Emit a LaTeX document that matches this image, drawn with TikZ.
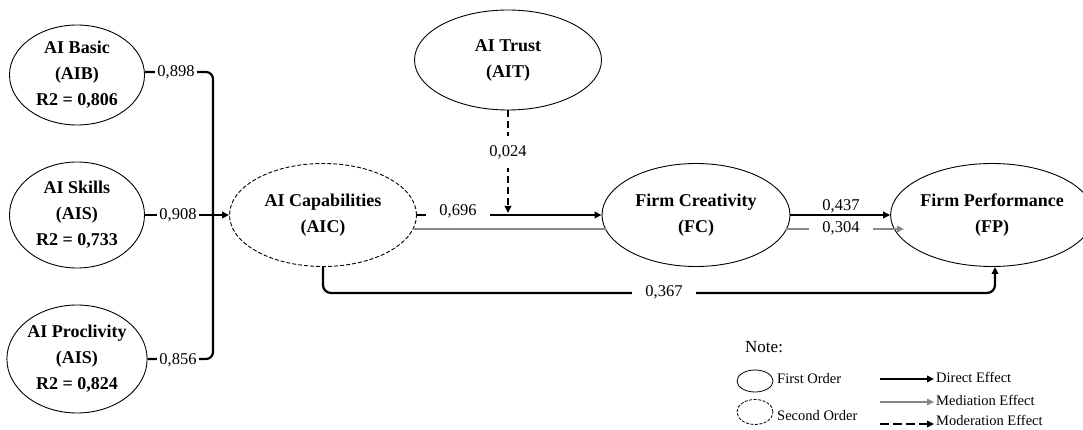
\documentclass[tikz,border=0pt]{standalone}
\usepackage{fontspec}
\setmainfont{Liberation Serif}
\usetikzlibrary{shapes.geometric,arrows.meta,calc}
\definecolor{medgray}{RGB}{135,135,135}
\begin{document}
\begin{tikzpicture}[x=1pt,y=-1pt,
  lv/.style={ellipse,draw,line width=0.9pt,inner sep=0pt,align=center,
    font=\fontsize{18}{26}\selectfont\bfseries},
  lvtwo/.style={lv,dash pattern=on 4pt off 2pt},
  tip/.style={-{Triangle[length=7pt,width=6.5pt]}},
  eff/.style={line width=2.2pt,tip},
  med/.style={line width=2.2pt,draw=medgray},
  modr/.style={eff,dash pattern=on 7pt off 4pt},
  num/.style={fill=white,font=\fontsize{16.5}{17}\selectfont,inner ysep=1pt,inner xsep=2pt},
  wnum/.style={num,inner xsep=13pt},
  legt/.style={anchor=west,font=\fontsize{14.5}{15}\selectfont,inner sep=2pt}
]
\useasboundingbox (0,0) rectangle (1083,430);

% latent variables
\node[lv,minimum width=135pt,minimum height=100pt] (aib) at (77,75) {AI Basic\\(AIB)\\R2 = 0,806};
\node[lv,minimum width=135pt,minimum height=106pt] (ais) at (77,215) {AI Skills\\(AIS)\\R2 = 0,733};
\node[lv,minimum width=135pt,minimum height=108pt] (aip) at (77,359) {AI Proclivity\\(AIS)\\R2 = 0,824};
\node[lv,minimum width=187pt,minimum height=100pt] (ait) at (508,60) {AI Trust\\(AIT)};
\node[lvtwo,minimum width=187pt,minimum height=103pt] (aic) at (323,215) {AI Capabilities\\(AIC)};
\node[lv,minimum width=188pt,minimum height=103pt] (fc) at (696,215) {Firm Creativity\\(FC)};
\node[lv,minimum width=182pt,minimum height=103pt] (fp) at (992,215) {Firm Performance\\(FP)};

% first-order to second-order
\coordinate (br) at (213,215);
\draw[line width=2.2pt,rounded corners=7pt] ($(aib.east)+(0,-3)$) -| (br) |- (aip.east);
\draw[eff] (ais.east) -- (aic.west);
\node[num] (l898) at (176,72) {0,898};
\node[num] (l908) at (178,215) {0,908};
\node[num] (l856) at (178,360) {0,856};

% structural paths
\draw[med] ($(aic.center)+(90,14)$) -- ($(fc.center)+(-90,14)$);
\draw[eff] (aic.east) -- (fc.west);
\coordinate (modend) at (508,213);
\draw[modr] (ait.south) -- (modend);
\node[num,inner ysep=9pt] (l024) at (508,152) {0,024};
\node[wnum] (l696) at (458,211) {0,696};

\draw[med,tip] ($(fc.center)+(90,14)$) -- ($(fp.center)+(-88,14)$);
\draw[eff] (fc.east) -- (fp.west);
\node[wnum] (l437) at (841,206) {0,437};
\node[wnum] (l304) at (841,228) {0,304};

\coordinate (c367) at (995,293);
\draw[eff,rounded corners=8pt] (aic.south) |- (c367) -- ($(fp.south)+(3,0)$);
\node[wnum] (l367) at (664,292) {0,367};

% legend
\node[anchor=west,font=\fontsize{17}{17}\selectfont,inner sep=0pt] (note) at (745,347) {Note:};
\node[ellipse,draw,line width=0.8pt,minimum width=36pt,minimum height=22pt,inner sep=0pt] (lg1) at (755,381) {};
\node[legt] (lt1) at (775,379) {First Order};
\node[ellipse,draw,line width=0.8pt,dash pattern=on 3pt off 1.5pt,minimum width=36pt,minimum height=25pt,inner sep=0pt] (lg2) at (755,412) {};
\node[legt] (lt2) at (775,416) {Second Order};

\node[legt] (lt3) at (934,377) {Direct Effect};
\node[legt] (lt4) at (934,400) {Mediation Effect};
\node[legt] (lt5) at (934,420) {Moderation Effect};
\coordinate (s3) at (880,379);
\coordinate (s4) at (880,402);
\coordinate (s5) at (880,424);
\draw[eff] (s3) -- (s3 -| lt3.west);
\draw[med,tip] (s4) -- (s4 -| lt4.west);
\draw[eff,dash pattern=on 9pt off 4pt] (s5) -- (s5 -| lt5.west);
\end{tikzpicture}
\end{document}
